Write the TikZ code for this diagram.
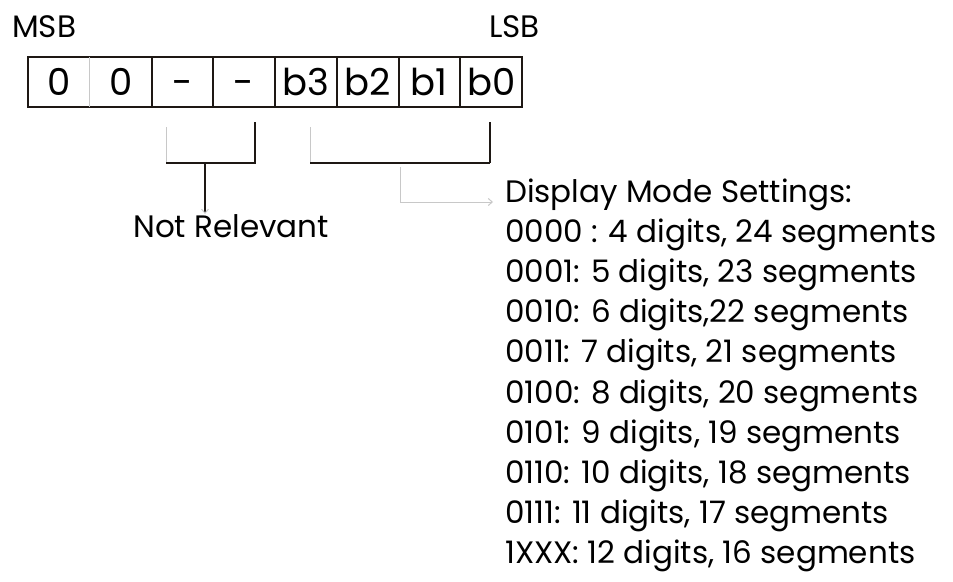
\documentclass[tikz,border=0pt]{standalone}
\usepackage{fontspec}
\setmainfont{Poppins}
\usetikzlibrary{arrows.meta}

\definecolor{lightln}{RGB}{200,200,200}
\definecolor{darkln}{RGB}{30,24,20}

\begin{document}
\begin{tikzpicture}[x=1pt, y=-1pt,
    cell/.style={minimum width=61.75pt, minimum height=50pt, inner sep=0pt,
        text height=26pt, text depth=0pt, font=\fontsize{37}{43}\selectfont},
    txt/.style={inner sep=0pt, font=\fontsize{31}{37}\selectfont},
    thin/.style={draw=lightln, line width=1pt},
    thick/.style={draw=darkln, line width=2pt},
    barb/.style={-{Straight Barb[length=4pt, width=7pt, line width=1pt, color=lightln]}}]
    \useasboundingbox (0,0) rectangle (953,581);
    % register bits
    \node[txt, anchor=base west] (msb) at (12,37) {MSB};
    \node[txt, anchor=base east] (lsb) at (540,37) {LSB};
    \node[cell] (c7) at (58.875,82) {0};
    \node[cell] (c6) at (120.625,82) {0};
    \node[cell] (c5) at (182.375,82) {-};
    \node[cell] (c4) at (244.125,82) {-};
    \node[cell] (c3) at (305.875,82) {b3};
    \node[cell] (c2) at (367.625,82) {b2};
    \node[cell] (c1) at (429.375,82) {b1};
    \node[cell] (c0) at (491.125,82) {b0};
    \draw[thick] (c7.north west) rectangle (c0.south east);
    \draw[thin] (c7.north east) -- (c7.south east);
    \draw[thick] (c6.north east) -- (c6.south east);
    \draw[thick] (c5.north east) -- (c5.south east);
    \draw[thick] (c4.north east) -- (c4.south east);
    \draw[thick] (c3.north east) -- (c3.south east);
    \draw[thick] (c2.north east) -- (c2.south east);
    \draw[thick] (c1.north east) -- (c1.south east);
    % brackets
    \coordinate (la) at (166,127);
    \coordinate (lb) at (166,163);
    \coordinate (lc) at (255,163);
    \coordinate (ld) at (255,122);
    \coordinate (lm) at (205,163);
    \coordinate (ra) at (310,127);
    \coordinate (rb) at (310,163);
    \coordinate (rc) at (490,163);
    \coordinate (rd) at (490,122);
    \coordinate (rm) at (400,167);
    \draw[thin] (la) -- (lb);
    \draw[thick] (lb) -- (lc) -- (ld);
    \draw[thin] (ra) -- (rb);
    \draw[thick] (rb) -- (rc);
    \draw[thick, line width=2.5pt] (rc) -- (rd);
    % labels
    \node[txt, anchor=base] (nr) at (231,237) {Not Relevant};
    \node[txt, anchor=base west] (dm) at (505,202) {Display Mode Settings:};
    \node[txt, anchor=base west] (m0) at (505,242.2) {0000 : 4 digits, 24 segments};
    \node[txt, anchor=base west] (m1) at (505,282.4) {0001: 5 digits, 23 segments};
    \node[txt, anchor=base west] (m2) at (505,322.6) {0010: 6 digits,22 segments};
    \node[txt, anchor=base west] (m3) at (505,362.8) {0011: 7 digits, 21 segments};
    \node[txt, anchor=base west] (m4) at (505,403) {0100: 8 digits, 20 segments};
    \node[txt, anchor=base west] (m5) at (505,443.2) {0101: 9 digits, 19 segments};
    \node[txt, anchor=base west] (m6) at (505,483.4) {0110: 10 digits, 18 segments};
    \node[txt, anchor=base west] (m7) at (505,523.6) {0111: 11 digits, 17 segments};
    \node[txt, anchor=base west] (m8) at (505,563.8) {1XXX: 12 digits, 16 segments};
    % arrows
    \draw[thick, line width=2.7pt, barb] (lm) -- (lm |- nr.north);
    \draw[thin, barb] (rm) |- ([xshift=-12pt]dm.base west);
\end{tikzpicture}
\end{document}
